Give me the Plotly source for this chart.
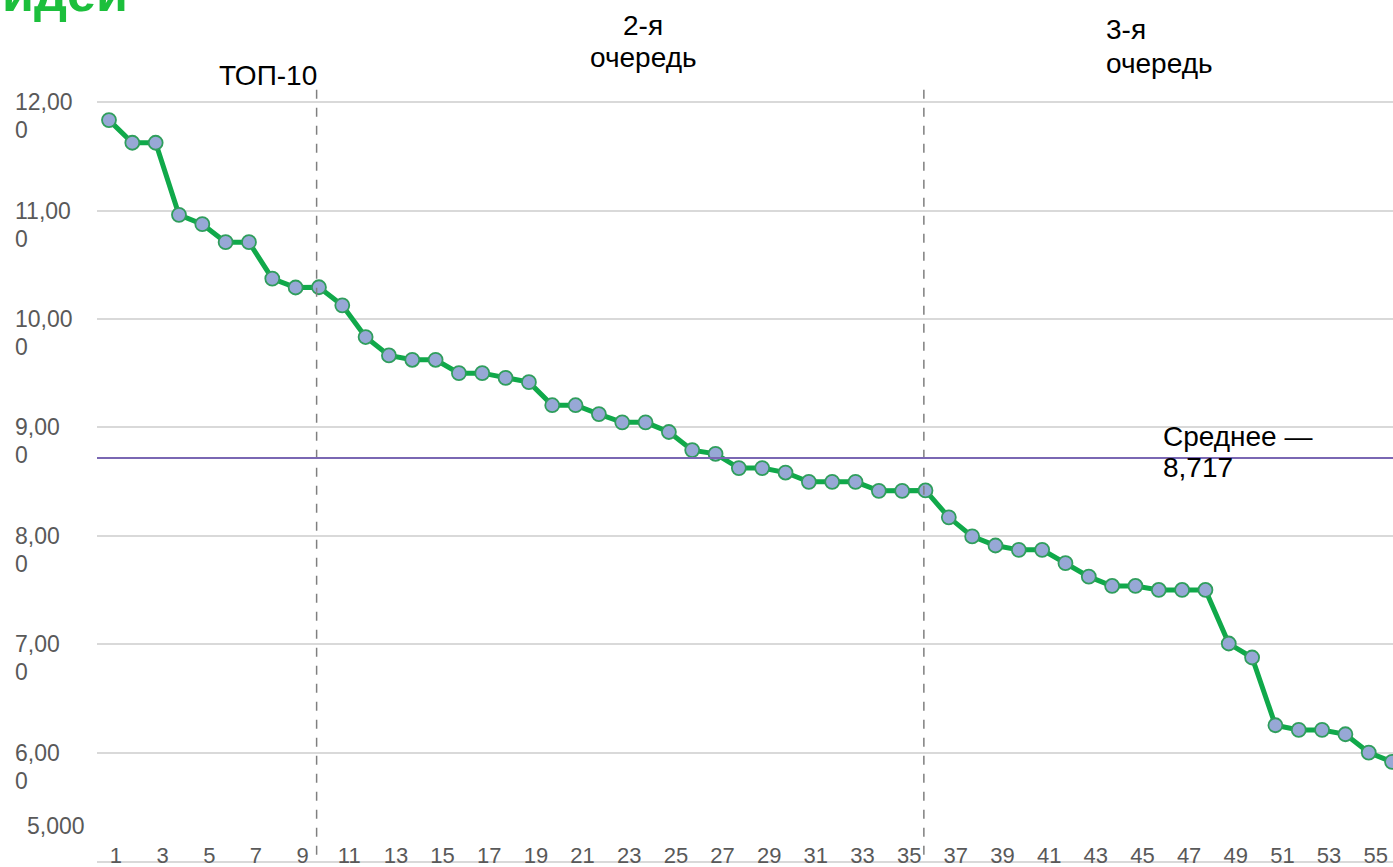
import plotly.graph_objects as go

# ---- data ----
idea_numbers = list(range(1, 57))
scores = [
    11.834, 11.625, 11.625, 10.960, 10.874, 10.708, 10.708, 10.372, 10.290, 10.292,
    10.125, 9.833, 9.663, 9.623, 9.623, 9.500, 9.500, 9.456, 9.417, 9.204,
    9.204, 9.122, 9.046, 9.046, 8.957, 8.790, 8.756, 8.624, 8.624, 8.583,
    8.497, 8.497, 8.497, 8.414, 8.414, 8.418, 8.170, 7.994, 7.910, 7.870,
    7.870, 7.747, 7.623, 7.537, 7.537, 7.500, 7.500, 7.500, 7.006, 6.877,
    6.252, 6.209, 6.209, 6.169, 6.000, 5.914,
]
x_tick_vals = [1, 3, 5, 7, 9, 11, 13, 15, 17, 19, 21, 23, 25, 27, 29, 31, 33, 35,
               37, 39, 41, 43, 45, 47, 49, 51, 53, 55]
x_tick_labels = [str(v) for v in x_tick_vals]
y_tick_vals = [5, 6, 7, 8, 9, 10, 11, 12]
y_tick_labels = [["5,000"], ["6,00", "0"], ["7,00", "0"], ["8,00", "0"], ["9,00", "0"],
                 ["10,00", "0"], ["11,00", "0"], ["12,00", "0"]]
mean_value = 8.717
group_boundaries = [9.9, 35.93]
group_labels = [["ТОП-10"], ["2-я", "очередь"], ["3-я", "очередь"]]
mean_label = ["Среднее —", "8,717"]
title_text = "идеи"

FONT = "Liberation Sans, Arial, sans-serif"
GRAY = "#595959"
W, H = 1393, 867
ML, MT, MB = 97, 88, 6
PW, PH = W - ML, H - MT - MB


def px_x(p):
    return (p - ML) / PW


def px_y(p):
    return (H - MB - p) / PH


fig = go.Figure()
fig.add_trace(go.Scatter(
    x=idea_numbers, y=scores, mode="lines+markers",
    line=dict(color="#10a94a", width=5),
    marker=dict(size=14, color="#97a8d6", line=dict(color="#2f9e5c", width=1.8)),
    showlegend=False, cliponaxis=False,
))

shapes = []
for xb in group_boundaries:
    shapes.append(dict(type="line", xref="x", yref="paper", x0=xb, x1=xb, y0=0.008, y1=1,
                       line=dict(color="#7f7f7f", width=1.5, dash="dash")))
shapes.append(dict(type="line", xref="paper", yref="y", x0=0, x1=1, y0=mean_value, y1=mean_value,
                   line=dict(color="#7a67b3", width=1.8)))

annotations = []
# y axis labels (wrapped like the original)
for v, lines in zip(y_tick_vals, y_tick_labels):
    if len(lines) == 2:
        for i, t in enumerate(lines):
            annotations.append(dict(xref="paper", yref="y", x=px_x(13), y=v, text=t,
                                    xanchor="left", yanchor="middle", yshift=-28 * i,
                                    showarrow=False, font=dict(family=FONT, size=23, color=GRAY)))
    else:
        annotations.append(dict(xref="paper", yref="y", x=px_x(25), y=v, text=lines[0],
                                xanchor="left", yanchor="middle", yshift=35,
                                showarrow=False, font=dict(family=FONT, size=23, color=GRAY)))


def add_block(lines, x_px, y_first_px, anchor, spacing=33, size=28):
    for i, t in enumerate(lines):
        annotations.append(dict(xref="paper", yref="paper", x=px_x(x_px),
                                y=px_y(y_first_px + spacing * i), text=t,
                                xanchor=anchor, yanchor="middle", showarrow=False,
                                font=dict(family=FONT, size=size, color="black")))


add_block(group_labels[0], 268, 75, "center")
add_block(group_labels[1], 643, 25, "center")
add_block(group_labels[2], 1104, 29, "left", spacing=34)
add_block(mean_label, 1161, 436, "left", spacing=31)

annotations.append(dict(xref="paper", yref="paper", x=px_x(130), y=px_y(24),
                        text="<b>" + title_text + "</b>", xanchor="right", yanchor="bottom",
                        showarrow=False, font=dict(family=FONT, size=52, color="#1cbf3c")))

fig.update_layout(
    width=W, height=H,
    margin=dict(l=ML, r=0, t=MT, b=MB, autoexpand=False),
    paper_bgcolor="white", plot_bgcolor="white",
    showlegend=False,
    shapes=shapes, annotations=annotations,
    xaxis=dict(range=[0.486, 56.04], tickvals=x_tick_vals, ticktext=x_tick_labels,
               showgrid=False, zeroline=False, showline=True, linecolor="#d9d9d9", linewidth=1.5,
               ticks="", tickfont=dict(family=FONT, size=22, color=GRAY),
               ticklabelstandoff=-26, ticklabelshift=7, automargin=False),
    yaxis=dict(range=[5, 12.13], tickvals=y_tick_vals, showticklabels=False,
               showgrid=True, gridcolor="#d9d9d9", gridwidth=1.5, zeroline=False,
               automargin=False),
)

fig.write_html("out.html", config={"displayModeBar": False},
               post_script="document.body.style.margin='0px';document.body.style.overflow='hidden';")
